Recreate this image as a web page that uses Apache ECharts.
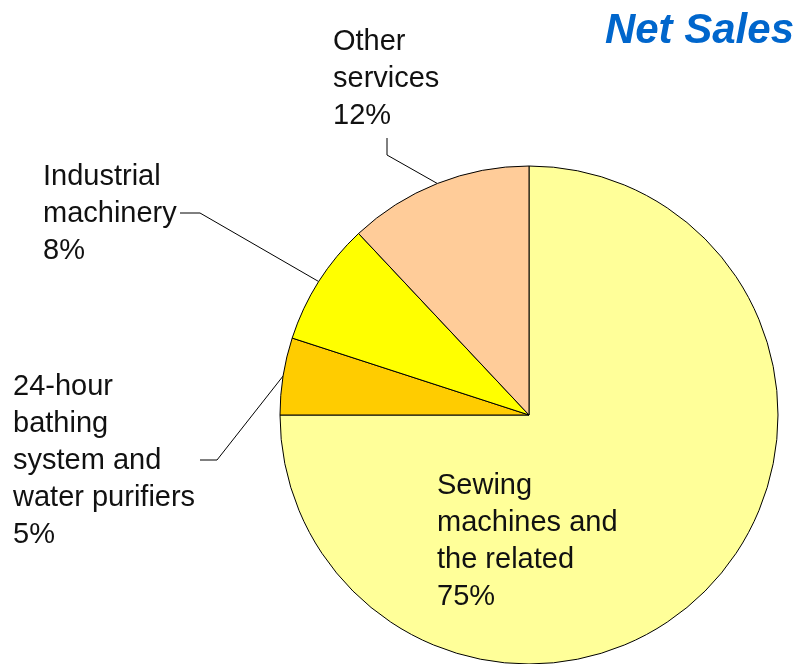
<!DOCTYPE html>
<html>
<head>
<meta charset="utf-8">
<script src="https://cdn.jsdelivr.net/npm/echarts@6/dist/echarts.min.js"></script>
<style>html,body{margin:0;padding:0;background:#fff;}#c{width:799px;height:664px;}</style>
</head>
<body>
<div id="c"></div>
<script>
var categories = ["Sewing\nmachines and\nthe related", "24-hour\nbathing\nsystem and\nwater purifiers", "Industrial\nmachinery", "Other\nservices"];
var values = [75, 5, 8, 12];
var colors = ["#FFFF99", "#FFCC00", "#FFFF00", "#FFCC99"];
var titleText = "Net Sales";

// label placement (layout only)
var labelPos = [
  {x: 437, y: 467, line: null},
  {x: 13, y: 368, line: [[217, 460], [200, 460]]},
  {x: 43, y: 158, line: [[200, 213], [180, 213]]},
  {x: 333, y: 23, line: [[387, 155], [387, 138]]}
];

var chart = echarts.init(document.getElementById('c'), null, {renderer: 'canvas'});
var data = categories.map(function (n, i) {
  var item = {name: n, value: values[i], itemStyle: {color: colors[i]}};
  if (i === 0) { item.label = {position: 'inside'}; item.labelLine = {show: false}; }
  return item;
});
chart.setOption({
  animation: false,
  backgroundColor: '#ffffff',
  title: {
    text: titleText, right: 0, top: 5,
    textStyle: {fontFamily: 'Liberation Sans, Arial, sans-serif', fontSize: 42, fontWeight: 'bold', fontStyle: 'italic', color: '#0066CC'}
  },
  series: [{
    type: 'pie',
    center: [529, 415],
    radius: 249,
    startAngle: 90,
    clockwise: true,
    avoidLabelOverlap: false,
    silent: true,
    data: data,
    itemStyle: {borderColor: '#000', borderWidth: 1},
    label: {
      show: true,
      position: 'outside',
      formatter: '{b}\n{d}%',
      fontFamily: 'Liberation Sans, Arial, sans-serif',
      fontSize: 29,
      lineHeight: 37,
      color: '#111',
      align: 'left'
    },
    labelLine: {show: true, smooth: false, length: 20, length2: 20, lineStyle: {color: '#000', width: 1}},
    labelLayout: function (params) {
      var p = labelPos[params.dataIndex];
      var res = {x: p.x, y: p.y, align: 'left', verticalAlign: 'top'};
      if (p.line && params.labelLinePoints) {
        res.labelLinePoints = [params.labelLinePoints[0], p.line[0], p.line[1]];
      }
      return res;
    }
  }]
});
</script>
</body>
</html>
